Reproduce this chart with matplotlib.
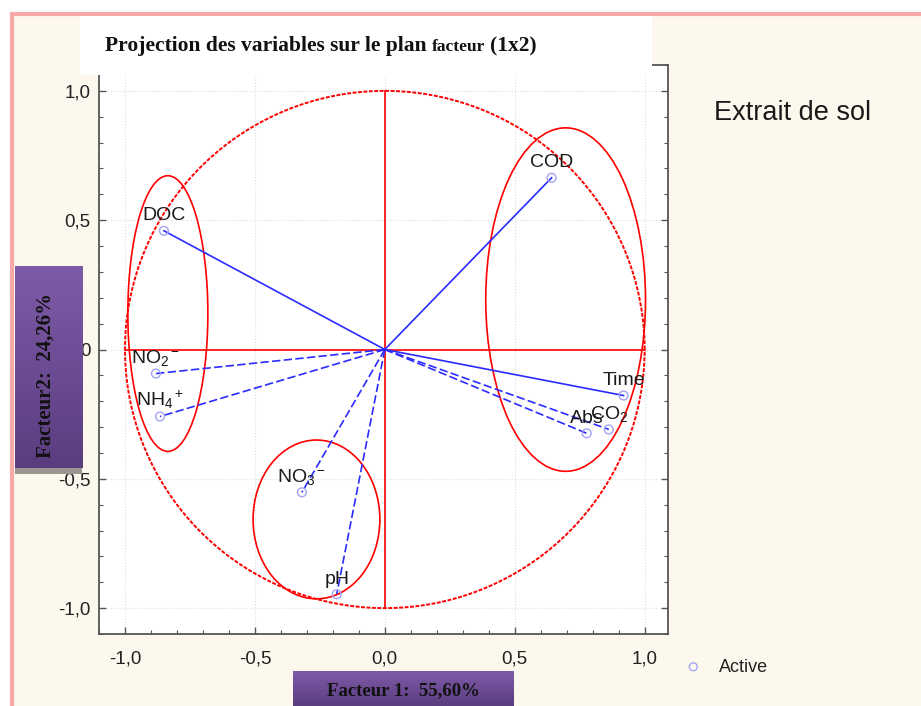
import numpy as np
import matplotlib
matplotlib.use('Agg')
import matplotlib.pyplot as plt
from matplotlib.patches import Ellipse, Rectangle
from matplotlib.ticker import MultipleLocator

plt.rcParams['font.family'] = ['Liberation Sans', 'DejaVu Sans']
plt.rcParams['mathtext.fontset'] = 'custom'
plt.rcParams['mathtext.rm'] = 'Liberation Sans'
plt.rcParams['mathtext.it'] = 'Liberation Sans'

# variables projected on factor plane 1x2
names = ['COD', 'DOC', r'NO$_2$$^-$', r'NH$_4$$^+$', r'NO$_3$$^-$', 'pH', 'Time', r'CO$_2$', 'Abs']
f1 = [0.642, -0.850, -0.881, -0.865, -0.319, -0.185, 0.919, 0.862, 0.777]
f2 = [0.664, 0.459, -0.093, -0.259, -0.552, -0.946, -0.178, -0.309, -0.324]
dashed = [False, False, True, True, True, True, False, True, True]

# hand drawn groupings (centre x, centre y, width, height)
grp_x = [-0.835, 0.696, -0.263]
grp_y = [0.139, 0.193, -0.657]
grp_w = [0.308, 0.615, 0.488]
grp_h = [1.066, 1.328, 0.614]

xticks = [-1.0, -0.5, 0.0, 0.5, 1.0]
xticklabels = ['-1,0', '-0,5', '0,0', '0,5', '1,0']
yticks = [-1.0, -0.5, 0.0, 0.5, 1.0]
yticklabels = ['-1,0', '-0,5', '0', '0,5', '1,0']

W, H = 921, 706
fig = plt.figure(figsize=(W / 100, H / 100), dpi=100, facecolor='white')

def fr(x0, y0, x1, y1):
    """pixel box (top-left origin) -> figure fraction rect"""
    return [x0 / W, 1 - y1 / H, (x1 - x0) / W, (y1 - y0) / H]

# cream background with pink frame
bg = fr(12, 14, 940, 720)
fig.patches.append(Rectangle((bg[0], bg[1]), bg[2], bg[3], transform=fig.transFigure,
                             facecolor='#fdf8ee', edgecolor='#f6a9a9', lw=3, zorder=-1))

ax = fig.add_axes(fr(99, 65, 668, 634))
ax.set_facecolor('white')
ax.set_xlim(-1.1, 1.09)
ax.set_ylim(-1.1, 1.1)

t = np.linspace(0, 2 * np.pi, 400)
ax.plot(np.cos(t), np.sin(t), color='red', lw=1.4, ls=(0, (2, 0.8)), zorder=2)
ax.plot([-1, 1], [0, 0], color='red', lw=1.2, zorder=2)
ax.plot([0, 0], [-1, 1], color='red', lw=1.2, zorder=2)

for cx, cy, w, h in zip(grp_x, grp_y, grp_w, grp_h):
    ax.add_patch(Ellipse((cx, cy), w, h, fill=False, edgecolor='red', lw=1.2, zorder=2))

for x, y, d in zip(f1, f2, dashed):
    ax.plot([0, x], [0, y], color='#2b2bff', lw=1.2,
            ls=(0, (5, 2)) if d else '-', zorder=3)

ax.scatter(f1, f2, s=40, facecolors='none', edgecolors='#a3a3f5', lw=1.0, zorder=4,
           label='Active')

for n, x, y in zip(names, f1, f2):
    ax.text(x, y + 0.04, n, ha='center', va='baseline', fontsize=14, color='#1a1a1a', zorder=5)

ax.set_xticks(xticks)
ax.set_xticklabels(xticklabels)
ax.set_yticks(yticks)
ax.set_yticklabels(yticklabels)
ax.xaxis.set_minor_locator(MultipleLocator(0.1))
ax.yaxis.set_minor_locator(MultipleLocator(0.1))
ax.tick_params(which='both', direction='in', top=True, right=True, colors='#555555',
               labelcolor='#222222', labelsize=13.5)
ax.tick_params(which='major', length=5, width=1)
ax.tick_params(which='minor', length=3, width=0.8)
ax.tick_params(axis='x', pad=12)
ax.tick_params(axis='y', pad=6)
ax.grid(True, which='major', color='#dddddd', lw=0.8, ls=':')
for sp in ax.spines.values():
    sp.set_color('#555555')
    sp.set_linewidth(1.3)

# title box
tb = fr(80, 16, 652, 75)
fig.patches.append(Rectangle((tb[0], tb[1]), tb[2], tb[3], transform=fig.transFigure,
                             facecolor='white', edgecolor='none', zorder=2))
renderer = fig.canvas.get_renderer()
x_px = 105
for part, size in [('Projection des variables sur le plan', 15.5), ('facteur', 12.5), ('(1x2)', 15.5)]:
    tt = fig.text(x_px / W, 1 - 51 / H, part, fontsize=size, fontweight='bold',
                  family='Liberation Serif', color='#111111', zorder=3)
    x_px += tt.get_window_extent(renderer).width + 5

fig.text(714 / W, 1 - 120 / H, 'Extrait de sol', fontsize=19.5, color='#1a1a1a')

# purple axis-title boxes
grad = np.linspace(0, 1, 100).reshape(-1, 1)
purple = matplotlib.colors.LinearSegmentedColormap.from_list('p', ['#7e5ba8', '#5a3d7f'])

gs = fr(15, 466, 82, 474)
fig.patches.append(Rectangle((gs[0], gs[1]), gs[2], gs[3], transform=fig.transFigure,
                             facecolor='#9a9690', edgecolor='none', zorder=2))
ya = fig.add_axes(fr(15, 266, 82, 468), zorder=3)
ya.imshow(grad, aspect='auto', cmap=purple, extent=(0, 1, 0, 1))
ya.axis('off')
ya.text(0.45, 0.46, 'Facteur2:  24,26%', rotation=90, ha='center', va='center', fontsize=15,
        fontweight='bold', family='Liberation Serif', color='#111111', transform=ya.transAxes)

xa = fig.add_axes(fr(293, 671, 513, 706), zorder=3)
xa.imshow(grad, aspect='auto', cmap=purple, extent=(0, 1, 0, 1))
xa.axis('off')
xa.text(0.5, 0.45, 'Facteur 1:  55,60%', ha='center', va='center', fontsize=13.5,
        fontweight='bold', family='Liberation Serif', color='#111111', transform=xa.transAxes)

leg = fig.legend(loc='center left', bbox_to_anchor=(668 / W, 1 - 667 / H), frameon=False,
                 fontsize=13, handlelength=1.0, handletextpad=0.9, markerscale=0.9)
for txt in leg.get_texts():
    txt.set_color('#222222')

fig.savefig('out.png', dpi=100, facecolor=fig.get_facecolor())
